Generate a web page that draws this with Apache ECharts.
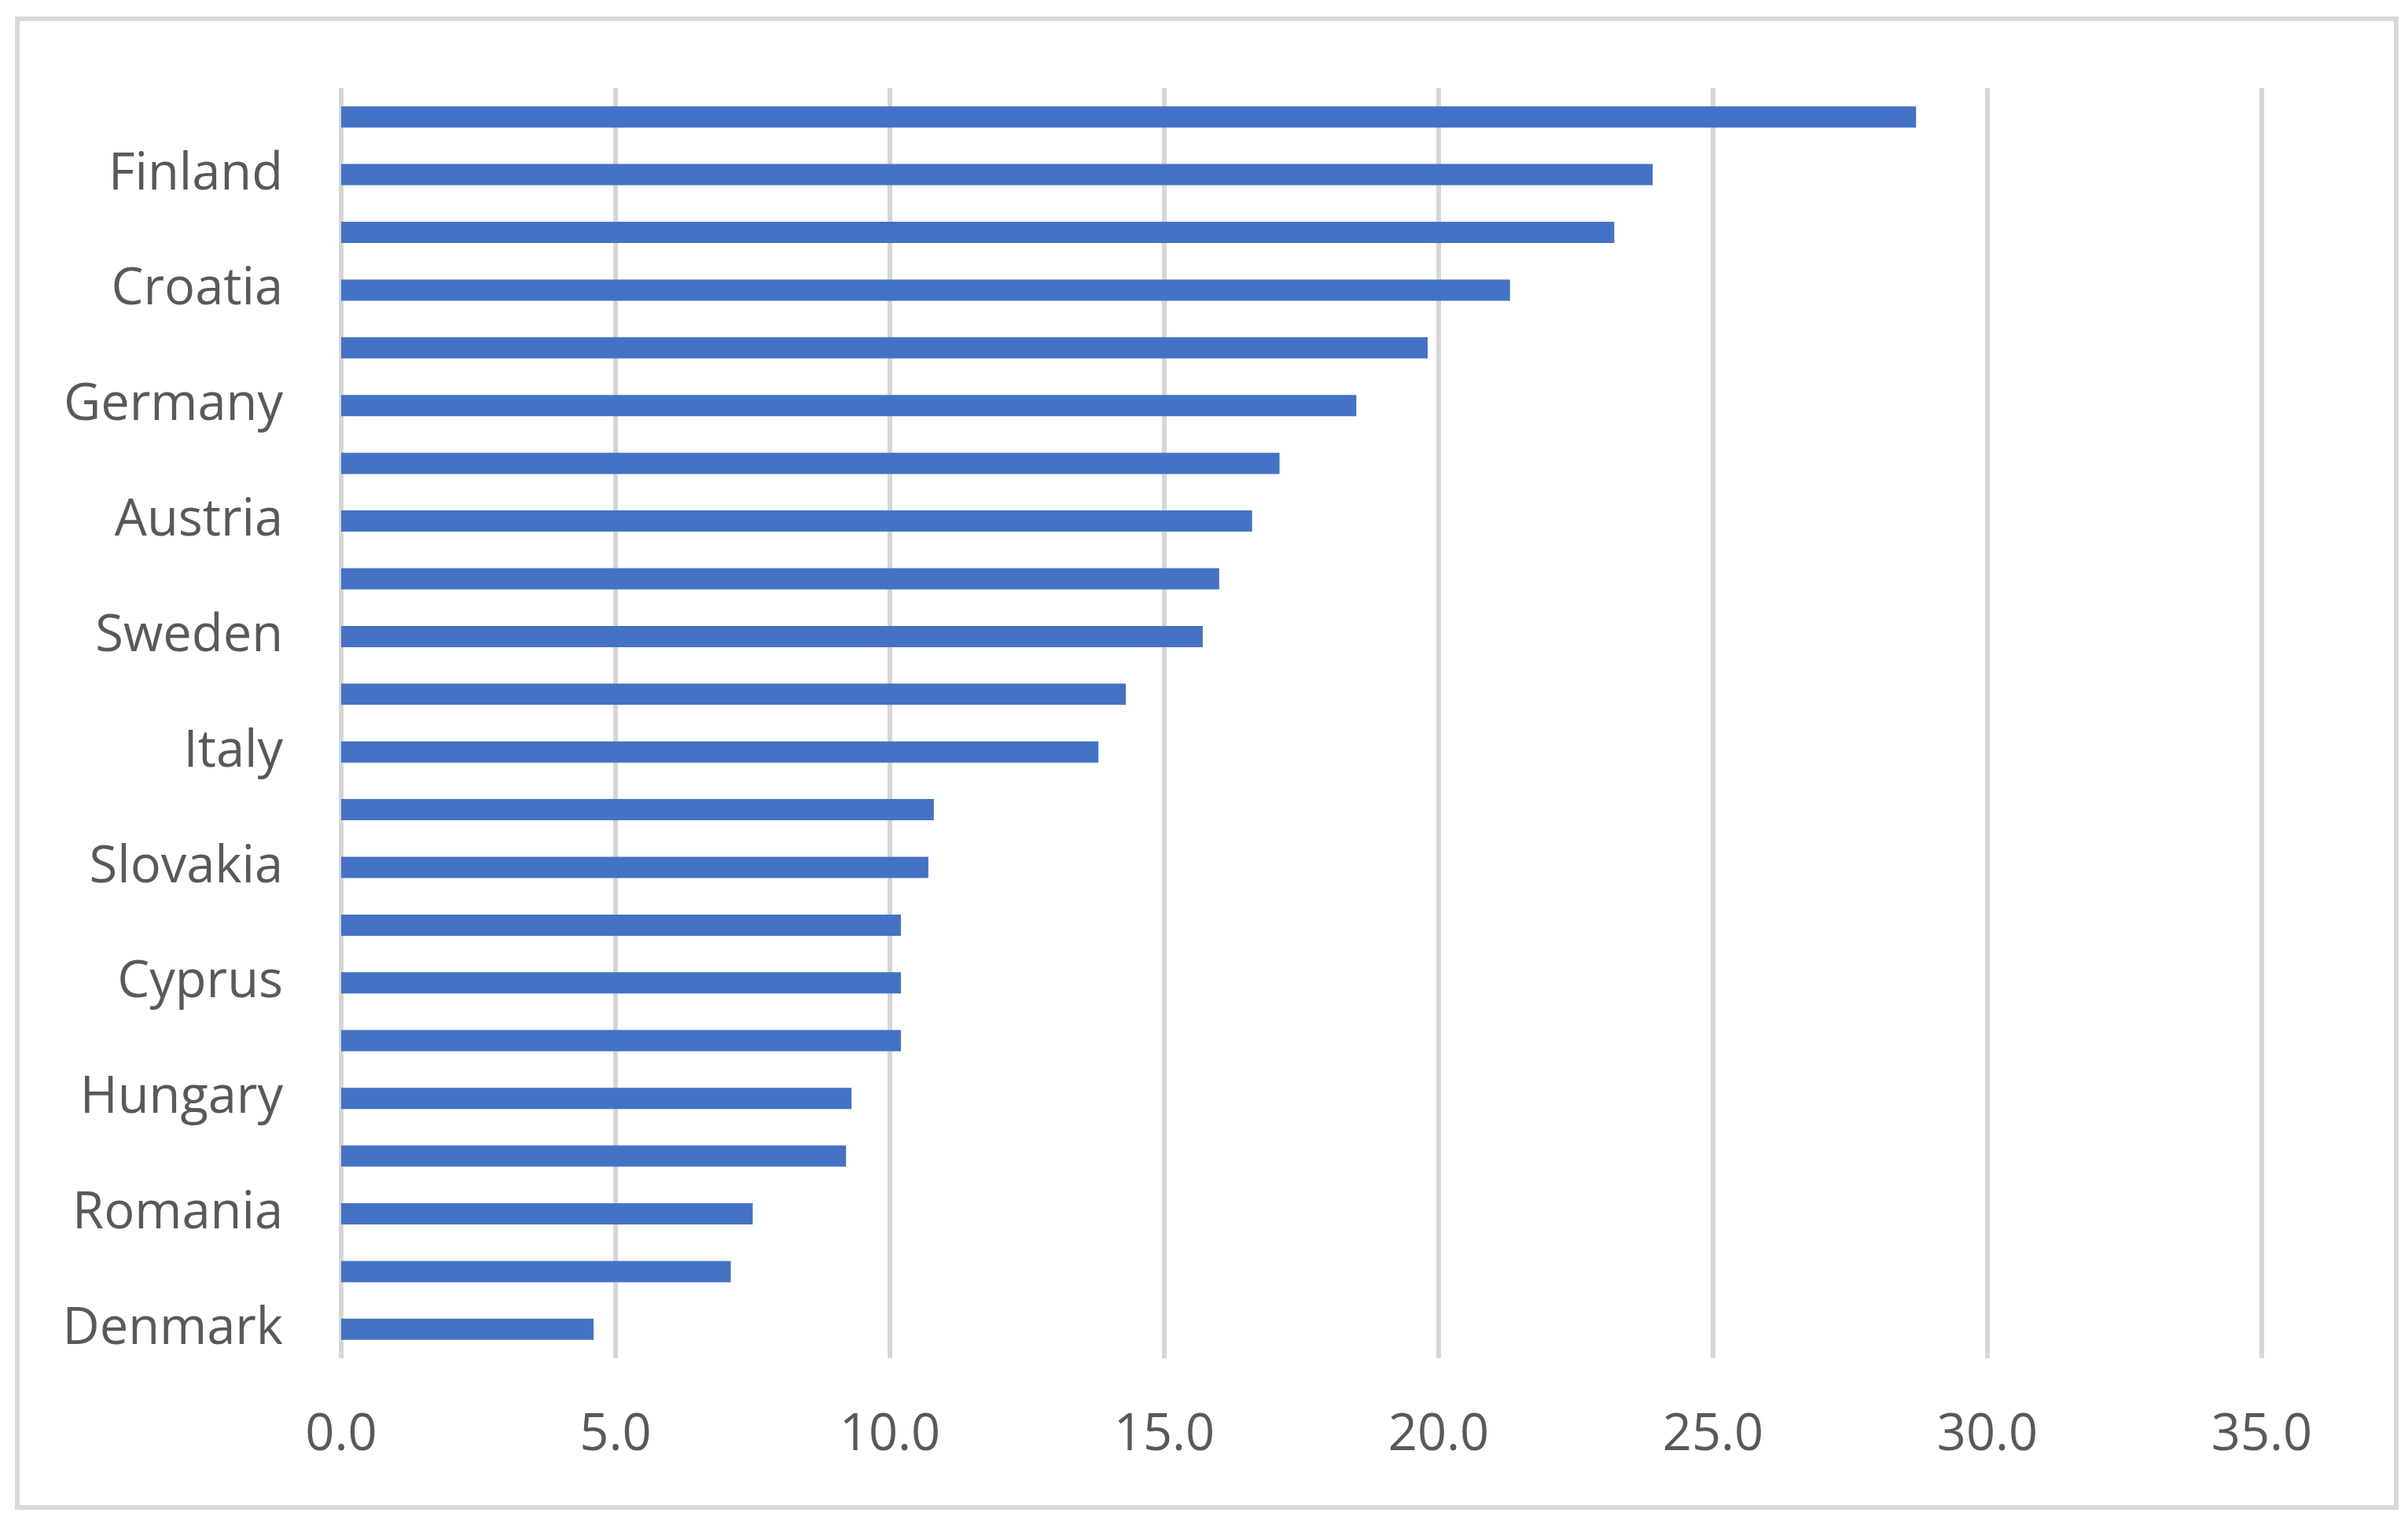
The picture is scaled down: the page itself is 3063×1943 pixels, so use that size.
<!DOCTYPE html>
<html>
<head>
<meta charset="utf-8">
<script src="https://cdn.jsdelivr.net/npm/echarts@6/dist/echarts.min.js"></script>
<style>
html,body{margin:0;padding:0;background:#fff;}
#chart{width:3063px;height:1943px;}
</style>
</head>
<body>
<div id="chart"></div>
<script>
// Categories top-to-bottom; only every other label is printed in the reference
var categories = ['', 'Finland', '', 'Croatia', '', 'Germany', '', 'Austria', '', 'Sweden', '',
  'Italy', '', 'Slovakia', '', 'Cyprus', '', 'Hungary', '', 'Romania', '', 'Denmark'];
var values = [28.7, 23.9, 23.2, 21.3, 19.8, 18.5, 17.1, 16.6, 16.0, 15.7, 14.3,
  13.8, 10.8, 10.7, 10.2, 10.2, 10.2, 9.3, 9.2, 7.5, 7.1, 4.6];
var xTicks = {min: 0, max: 35, interval: 5};

var chart = echarts.init(document.getElementById('chart'), null, {renderer: 'canvas'});
var FONT = '"Open Sans", "Noto Sans", sans-serif';
chart.setOption({
  backgroundColor: '#ffffff',
  animation: false,
  graphic: [{
    type: 'rect',
    shape: {x: 22, y: 24, width: 3026, height: 1893},
    style: {fill: 'none', stroke: '#d9d9d9', lineWidth: 6},
    silent: true
  }],
  grid: {left: 434, right: 186, top: 112, bottom: 216},
  xAxis: {
    type: 'value',
    min: xTicks.min, max: xTicks.max, interval: xTicks.interval,
    axisLine: {show: false},
    axisTick: {show: false},
    splitLine: {show: true, lineStyle: {color: '#d6d6d6', width: 6}},
    axisLabel: {
      color: '#595959', fontFamily: FONT, fontSize: 65, margin: 66,
      formatter: function (v) { return v.toFixed(1); }
    }
  },
  yAxis: {
    type: 'category',
    data: categories,
    inverse: true,
    axisLine: {show: false},
    axisTick: {show: false},
    splitLine: {show: false},
    axisLabel: {
      interval: 0, color: '#595959', fontFamily: FONT, fontSize: 65, margin: 74,
      padding: [4, 0, 0, 0]
    }
  },
  series: [{
    type: 'bar',
    data: values,
    barWidth: 27,
    itemStyle: {color: '#4472C4'}
  }]
});
</script>
</body>
</html>
